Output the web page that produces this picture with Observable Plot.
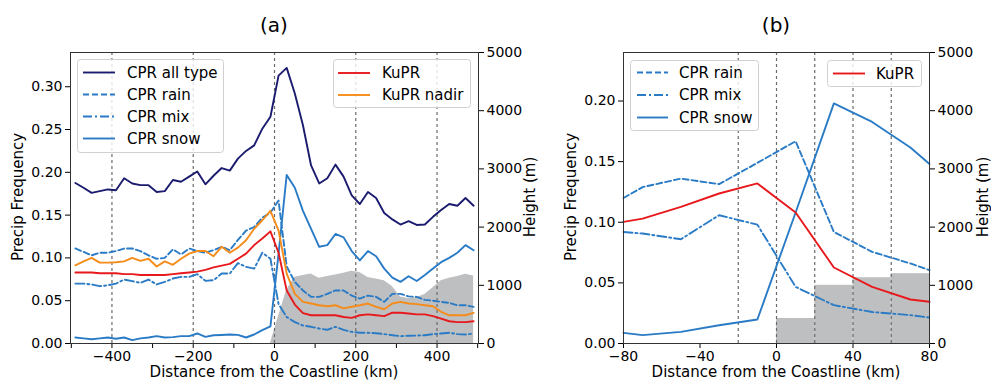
<!DOCTYPE html>
<html><head><meta charset="utf-8">
<script src="https://cdn.jsdelivr.net/npm/d3@7"></script>
<script src="https://cdn.jsdelivr.net/npm/@observablehq/plot@0.6"></script>
<style>
body{margin:0;background:#fff;}
#root{position:relative;width:991px;height:383px;overflow:hidden;background:#fff;font-family:"DejaVu Sans",sans-serif;}
.layer{position:absolute;top:0;}
.layer svg{display:block;}
</style></head><body><div id="root"></div>
<script>
// ---------- DATA ----------
// Panel (a): distance bins (km)
const kmA = [-490,-470,-450,-430,-410,-390,-370,-350,-330,-310,-290,-270,-250,-230,-210,-190,-170,-150,-130,-110,-90,-70,-50,-30,-10,
             10,30,50,70,90,110,130,150,170,190,210,230,250,270,290,310,330,350,370,390,410,430,450,470,490];
const cprAllA = [0.1875,0.182,0.176,0.178,0.180,0.179,0.193,0.187,0.185,0.185,0.177,0.178,0.191,0.189,0.195,0.201,0.186,0.196,0.205,0.202,0.216,0.225,0.2315,0.251,0.265,
             0.313,0.322,0.292,0.255,0.208,0.187,0.193,0.209,0.195,0.173,0.163,0.177,0.170,0.1525,0.145,0.139,0.143,0.1385,0.139,0.148,0.156,0.163,0.161,0.170,0.161];
const cprRainA = [0.111,0.107,0.103,0.106,0.106,0.108,0.111,0.111,0.108,0.103,0.099,0.100,0.110,0.104,0.111,0.108,0.106,0.109,0.113,0.109,0.121,0.132,0.136,0.147,0.153,
             0.167,0.090,0.072,0.062,0.0545,0.0545,0.058,0.062,0.062,0.056,0.0525,0.056,0.0545,0.0486,0.058,0.058,0.055,0.0545,0.051,0.050,0.0486,0.0475,0.0447,0.0447,0.0428];
const cprMixA = [0.070,0.070,0.069,0.067,0.068,0.070,0.0747,0.0728,0.0708,0.0747,0.069,0.072,0.0759,0.0778,0.0778,0.081,0.0732,0.074,0.0817,0.0817,0.094,0.0895,0.0875,0.106,0.099,
             0.046,0.031,0.025,0.021,0.0195,0.0175,0.016,0.0195,0.016,0.0136,0.0125,0.0125,0.012,0.011,0.0097,0.0086,0.009,0.0093,0.0097,0.011,0.0117,0.0125,0.011,0.0105,0.0117];
const cprSnowA = [0.007,0.006,0.005,0.006,0.007,0.0055,0.007,0.004,0.006,0.007,0.0086,0.007,0.0075,0.0086,0.0086,0.0117,0.0078,0.0097,0.010,0.0105,0.0101,0.007,0.0105,0.0156,0.020,
             0.105,0.197,0.182,0.155,0.134,0.113,0.115,0.128,0.124,0.108,0.097,0.108,0.102,0.0875,0.077,0.072,0.0786,0.073,0.080,0.0875,0.095,0.100,0.106,0.115,0.109];
const kuprA = [0.083,0.083,0.083,0.082,0.082,0.082,0.081,0.081,0.080,0.080,0.080,0.080,0.081,0.082,0.083,0.084,0.086,0.089,0.091,0.093,0.099,0.105,0.115,0.1226,0.131,
             0.106,0.062,0.0455,0.0355,0.033,0.033,0.033,0.033,0.031,0.030,0.033,0.034,0.033,0.032,0.036,0.036,0.035,0.034,0.034,0.032,0.029,0.026,0.025,0.025,0.026];
const kuprNadirA = [0.0914,0.096,0.100,0.0945,0.0945,0.095,0.096,0.100,0.0965,0.099,0.090,0.096,0.092,0.099,0.105,0.108,0.108,0.102,0.113,0.106,0.112,0.1206,0.134,0.144,0.155,
             0.132,0.0817,0.058,0.0486,0.0467,0.0447,0.0436,0.0447,0.041,0.043,0.0447,0.0467,0.0428,0.040,0.0467,0.0486,0.0467,0.046,0.0447,0.0436,0.037,0.033,0.033,0.033,0.0358];
// Panel (a): surface height (m)
const elevKmA = [-10,10,30,50,70,90,110,130,150,170,190,210,230,250,270,290,310,330,350,370,390,410,430,450,470,490];
const elevA = [0,470,920,1140,1170,1195,1120,1150,1175,1205,1240,1220,1135,1110,1080,980,800,775,790,840,960,1080,1120,1150,1190,1160];

// Panel (b)
const kmB = [-80,-70,-50,-30,-10,10,30,50,70,80];
const cprRainB = [0.120,0.129,0.136,0.1314,0.149,0.1668,0.092,0.0756,0.066,0.0605];
const cprMixB  = [0.092,0.0907,0.086,0.1058,0.098,0.0467,0.0316,0.026,0.0234,0.0214];
const cprSnowB = [0.0088,0.0069,0.0096,0.0151,0.0198,0.108,0.198,0.1827,0.1616,0.148];
const kuprB    = [0.1003,0.103,0.1127,0.1237,0.132,0.108,0.0627,0.0467,0.0363,0.0344];
const elevBinStartB = [0,20,40,60];
const elevBinEndB   = [20,40,60,80];
const elevB = [430,1000,1130,1200];

// Ticks / labels
const xTicksA = [-500,-400,-300,-200,-100,0,100,200,300,400,500];
const xTicksB = [-80,-40,0,40,80];
const freqTicksA = [0,0.05,0.10,0.15,0.20,0.25,0.30];
const freqTicksB = [0,0.05,0.10,0.15,0.20];
const heightTicks = [0,1000,2000,3000,4000,5000];
const dottedA = [-400,-200,0,200,400];
const dottedB = [-20,0,20,40,60];
const titles = ["(a)","(b)"];
const xLabel = "Distance from the Coastline (km)";
const yLabel = "Precip Frequency";
const y2Label = "Height (m)";

// ---------- STYLE ----------
const COL = {all:"#1b1b6f", blue:"#2a7bc6", red:"#e8191c", orange:"#f58c1a", gray:"#bebfc0"};
const DASH = {rain:"6,3", mix:"9,3,2,3"};
const LW = 1.9;
const font = "'DejaVu Sans', sans-serif";
const baseStyle = {background:"transparent", fontFamily:font, fontSize:"14px", color:"#000", overflow:"visible"};
const fmtX = d => d < 0 ? "\u2212" + Math.abs(d) : String(d);

const tableA = kmA.map((km,i)=>({km, all:cprAllA[i], rain:cprRainA[i], mix:cprMixA[i], snow:cprSnowA[i], ku:kuprA[i], nadir:kuprNadirA[i]}));
const elevTableA = elevKmA.map((km,i)=>({km, h:elevA[i]}));
const tableB = kmB.map((km,i)=>({km, rain:cprRainB[i], mix:cprMixB[i], snow:cprSnowB[i], ku:kuprB[i]}));
const elevTableB = elevB.map((h,i)=>({x1:elevBinStartB[i], x2:elevBinEndB[i], h}));

const root = document.getElementById("root");
function addLayer(left, node){
  const d = document.createElement("div");
  d.className = "layer"; d.style.left = left + "px";
  d.appendChild(node); root.appendChild(d);
}

const A = {left:0, width:545, ml:70, mr:67, mt:52, mb:40, xd:[-502,502], yd:[0,0.34]};
const B = {left:545, width:446, ml:78, mr:62, mt:52, mb:40, xd:[-80,80], yd:[0,0.24]};
function dims(P){ return {width:P.width, height:383, marginLeft:P.ml, marginRight:P.mr, marginTop:P.mt, marginBottom:P.mb, style:baseStyle}; }

// Panel (a) background layer: terrain + right axis
addLayer(A.left, Plot.plot({...dims(A),
  x:{domain:A.xd, axis:null}, y:{domain:[0,5000]},
  marks:[
    Plot.areaY(elevTableA, {x:"km", y:"h", fill:COL.gray}),
    Plot.axisY({anchor:"right", ticks:heightTicks, tickFormat:d=>String(d), tickSize:5, tickPadding:3, label:null})
  ]}));
// Panel (a) foreground
addLayer(A.left, Plot.plot({...dims(A),
  x:{domain:A.xd}, y:{domain:A.yd},
  marks:[
    Plot.ruleX(dottedA, {stroke:"#6a6a6a", strokeWidth:1.2, strokeDasharray:"3,3"}),
    Plot.line(tableA, {x:"km", y:"all", stroke:COL.all, strokeWidth:LW}),
    Plot.line(tableA, {x:"km", y:"rain", stroke:COL.blue, strokeWidth:LW, strokeDasharray:DASH.rain}),
    Plot.line(tableA, {x:"km", y:"mix", stroke:COL.blue, strokeWidth:LW, strokeDasharray:DASH.mix}),
    Plot.line(tableA, {x:"km", y:"snow", stroke:COL.blue, strokeWidth:LW}),
    Plot.line(tableA, {x:"km", y:"ku", stroke:COL.red, strokeWidth:LW}),
    Plot.line(tableA, {x:"km", y:"nadir", stroke:COL.orange, strokeWidth:LW}),
    Plot.axisY({anchor:"left", ticks:freqTicksA, tickFormat:d3.format(".2f"), tickSize:5, tickPadding:3, label:null}),
    Plot.axisX({ticks:xTicksA, tickFormat:d=> d % 200 === 0 ? fmtX(d) : "", tickSize:5, tickPadding:3, label:null}),
    Plot.frame({stroke:"#333"})
  ]}));

// Panel (b) background
addLayer(B.left, Plot.plot({...dims(B),
  x:{domain:B.xd, axis:null}, y:{domain:[0,5000]},
  marks:[
    Plot.rectY(elevTableB, {x1:"x1", x2:"x2", y:"h", fill:COL.gray}),
    Plot.axisY({anchor:"right", ticks:heightTicks, tickFormat:d=>String(d), tickSize:5, tickPadding:3, label:null})
  ]}));
// Panel (b) foreground
addLayer(B.left, Plot.plot({...dims(B),
  x:{domain:B.xd}, y:{domain:B.yd},
  marks:[
    Plot.ruleX(dottedB, {stroke:"#6a6a6a", strokeWidth:1.2, strokeDasharray:"3,3"}),
    Plot.line(tableB, {x:"km", y:"rain", stroke:COL.blue, strokeWidth:LW, strokeDasharray:DASH.rain}),
    Plot.line(tableB, {x:"km", y:"mix", stroke:COL.blue, strokeWidth:LW, strokeDasharray:DASH.mix}),
    Plot.line(tableB, {x:"km", y:"snow", stroke:COL.blue, strokeWidth:LW}),
    Plot.line(tableB, {x:"km", y:"ku", stroke:COL.red, strokeWidth:LW}),
    Plot.axisY({anchor:"left", ticks:freqTicksB, tickFormat:d3.format(".2f"), tickSize:5, tickPadding:3, label:null}),
    Plot.axisX({ticks:xTicksB, tickFormat:fmtX, tickSize:5, tickPadding:3, label:null}),
    Plot.frame({stroke:"#333"})
  ]}));

// ---------- Titles, axis labels, legends ----------
const svg = d3.select(root).append("svg")
  .attr("width",991).attr("height",383)
  .style("position","absolute").style("left","0px").style("top","0px")
  .style("font-family", font);

function txt(x,y,s,size,rot,anchor){
  const t = svg.append("text").attr("x",x).attr("y",y).attr("font-size",size)
    .attr("text-anchor",anchor||"middle").attr("dominant-baseline","central").attr("fill","#000").text(s);
  if (rot) t.attr("transform",`rotate(${rot},${x},${y})`);
}
txt(274, 25, titles[0], 20);
txt(776, 25, titles[1], 20);
txt(274, 372, xLabel, 15);
txt(776, 372, xLabel, 15);
txt(18, 197, yLabel, 15, -90);
txt(571, 197, yLabel, 15, -90);
txt(530, 197, y2Label, 15, -90);
txt(983, 197, y2Label, 15, -90);

function legend(x,y,w,h,items,lx1,lx2,tx){
  svg.append("rect").attr("x",x).attr("y",y).attr("width",w).attr("height",h).attr("rx",3)
    .attr("fill","#fff").attr("fill-opacity",0.8).attr("stroke","#d0d0d0");
  items.forEach(it=>{
    svg.append("line").attr("x1",lx1).attr("x2",lx2).attr("y1",it.y).attr("y2",it.y)
      .attr("stroke",it.c).attr("stroke-width",LW).attr("stroke-dasharray",it.d||null);
    txt(tx, it.y, it.label, 15, 0, "start");
  });
}
legend(77.5,59.5,146,93,[
  {label:"CPR all type", c:COL.all, y:72.5},
  {label:"CPR rain", c:COL.blue, d:DASH.rain, y:94.5},
  {label:"CPR mix", c:COL.blue, d:DASH.mix, y:116.5},
  {label:"CPR snow", c:COL.blue, y:138.5}], 83, 115, 127);
legend(333.5,59.5,137,48,[
  {label:"KuPR", c:COL.red, y:73},
  {label:"KuPR nadir", c:COL.orange, y:95}], 338, 370, 382);
legend(630.5,60.5,128,70,[
  {label:"CPR rain", c:COL.blue, d:DASH.rain, y:72.5},
  {label:"CPR mix", c:COL.blue, d:DASH.mix, y:95},
  {label:"CPR snow", c:COL.blue, y:117.5}], 637, 668, 679);
legend(827.5,60.5,94,26,[
  {label:"KuPR", c:COL.red, y:73.5}], 833, 865, 876);
</script></body></html>
